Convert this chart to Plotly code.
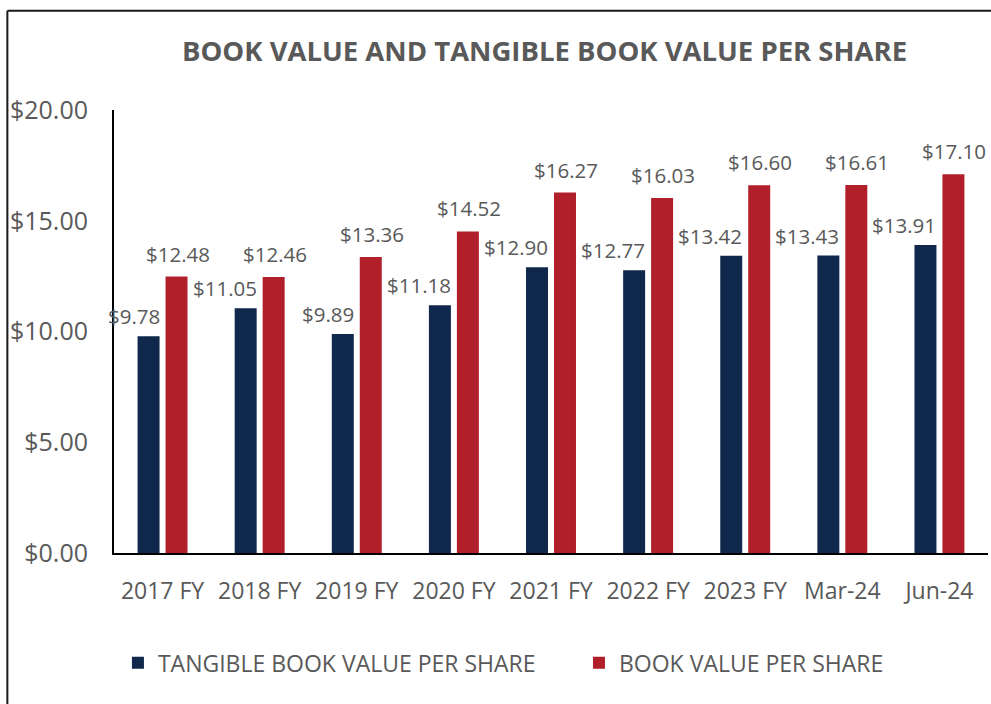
import plotly.graph_objects as go

categories = ["2017 FY", "2018 FY", "2019 FY", "2020 FY", "2021 FY", "2022 FY", "2023 FY", "Mar-24", "Jun-24"]
tangible_bv = [9.78, 11.05, 9.89, 11.18, 12.90, 12.77, 13.42, 13.43, 13.91]
book_value = [12.48, 12.46, 13.36, 14.52, 16.27, 16.03, 16.60, 16.61, 17.10]
y_ticks = [0, 5, 10, 15, 20]
y_tick_labels = ["$0.00", "$5.00", "$10.00", "$15.00", "$20.00"]

NAVY = "#0F284B"
RED = "#B01F2A"
GRAY = "#595959"
FONT = "Open Sans"

fig = go.Figure()
fig.add_trace(go.Bar(name="TANGIBLE BOOK VALUE PER SHARE", x=categories, y=tangible_bv,
                     marker=dict(color=NAVY, line=dict(width=0)), legend="legend"))
fig.add_trace(go.Bar(name="BOOK VALUE PER SHARE", x=categories, y=book_value,
                     marker=dict(color=RED, line=dict(width=0)), legend="legend2"))

annotations = []
for c, v in zip(categories, tangible_bv):
    annotations.append(dict(x=c, y=v, xref="x", yref="y", text=f"${v:.2f}", showarrow=False,
                            xanchor="right", yanchor="bottom", xshift=-1, yshift=4,
                            font=dict(family=FONT, size=20.5, color=GRAY)))
for c, v in zip(categories, book_value):
    annotations.append(dict(x=c, y=v, xref="x", yref="y", text=f"${v:.2f}", showarrow=False,
                            xanchor="center", yanchor="bottom", xshift=15, yshift=7,
                            font=dict(family=FONT, size=20.5, color=GRAY)))
annotations.append(dict(x=0.492, y=1.135, xref="paper", yref="paper",
                        text="<b>BOOK VALUE AND TANGIBLE BOOK VALUE PER SHARE</b>",
                        showarrow=False, xanchor="center", yanchor="middle",
                        font=dict(family=FONT, size=27.5, color=GRAY)))

legend_common = dict(orientation="h", yanchor="middle", xanchor="left", y=-0.248,
                     font=dict(family=FONT, size=23, color=GRAY), bgcolor="rgba(0,0,0,0)")

fig.update_layout(
    width=991, height=704,
    margin=dict(l=114, r=3, t=110, b=151),
    paper_bgcolor="white", plot_bgcolor="white",
    barmode="group", bargap=0.424, bargroupgap=0.214,
    font=dict(family=FONT, color=GRAY),
    showlegend=True,
    legend=dict(x=0.0045, **legend_common),
    legend2=dict(x=0.532, **legend_common),
    annotations=annotations,
    shapes=[
        dict(type="line", xref="paper", yref="paper", x0=-0.122, x1=-0.122, y0=1.224, y1=-0.4,
             line=dict(color="#1a1a1a", width=2)),
        dict(type="line", xref="paper", yref="paper", x0=-0.122, x1=1.01, y0=1.224, y1=1.224,
             line=dict(color="#1a1a1a", width=2)),
    ],
)
fig.update_xaxes(range=[-0.5, len(categories) - 0.5], autorange=False, automargin=False,
                 showline=True, linecolor="black", linewidth=2, showgrid=False, ticks="",
                 tickfont=dict(family=FONT, size=23, color=GRAY), ticklabelstandoff=16)
fig.update_yaxes(range=[0, 20], tickvals=y_ticks, ticktext=y_tick_labels, automargin=False,
                 showline=True, linecolor="black", linewidth=2, showgrid=False, zeroline=False,
                 ticks="", tickfont=dict(family=FONT, size=25, color=GRAY), ticklabelstandoff=19)

fig.write_html("out.html", config={"displayModeBar": False},
               post_script="document.body.style.margin='0';document.body.style.overflow='hidden';")
